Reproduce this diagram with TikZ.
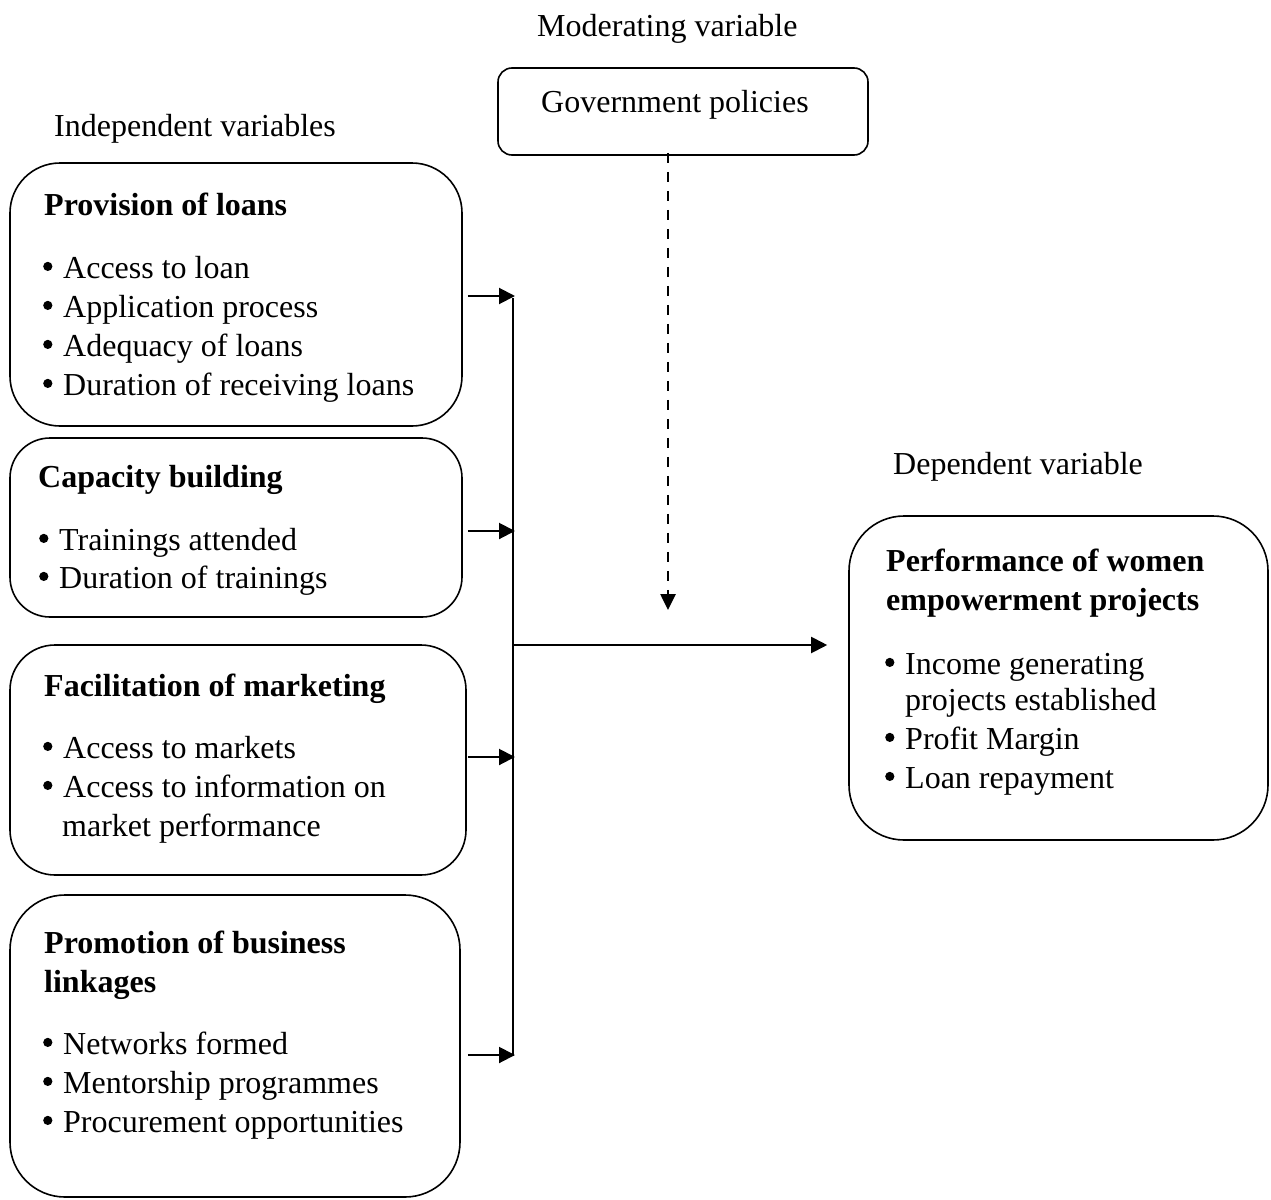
\documentclass[tikz,border=0pt]{standalone}
\usepackage{fontspec}
\setmainfont{Liberation Serif}
\usetikzlibrary{arrows.meta}
\newcommand{\bul}{\makebox[20pt][l]{\raisebox{7pt}{\tikz\fill (0,0) circle (4.6pt);}}}
\begin{document}
\begin{tikzpicture}[x=1pt,y=-1pt,
  txt/.style={anchor=base west,inner sep=0pt,font=\fontsize{32}{39}\selectfont},
  ttl/.style={txt,font=\fontsize{32}{39}\selectfont\bfseries},
  rbox/.style={draw,line width=1.6pt,inner sep=0pt,rectangle},
  conn/.style={line width=2pt,-{Triangle[length=16pt,width=16pt]}}]
\useasboundingbox (0,0) rectangle (1271,1199);
% boxes
\node[rbox,rounded corners=14pt,minimum width=370pt,minimum height=87pt] (gov) at (683,111.5) {};
\node[rbox,rounded corners=50pt,minimum width=452pt,minimum height=263pt] (b1) at (236,294.5) {};
\node[rbox,rounded corners=40pt,minimum width=452pt,minimum height=179pt] (b2) at (236,527.5) {};
\node[rbox,rounded corners=45pt,minimum width=456pt,minimum height=230pt] (b3) at (238,760) {};
\node[rbox,rounded corners=55pt,minimum width=450pt,minimum height=302pt] (b4) at (235,1046) {};
\node[rbox,rounded corners=55pt,minimum width=419pt,minimum height=324pt] (dep) at (1058.5,678) {};
% headings
\node[txt] (tmod) at (537,37) {Moderating variable};
\node[txt] (tgov) at (541,112) {Government policies};
\node[txt] (tind) at (54,136) {Independent variables};
\node[txt] (tdv) at (893,474) {Dependent variable};
% box 1
\node[ttl] (t1) at (44,215) {Provision of loans};
\node[txt] (t1a) at (43,278) {\bul Access to loan};
\node[txt] (t1b) at (43,317) {\bul Application process};
\node[txt] (t1c) at (43,356) {\bul Adequacy of loans};
\node[txt] (t1d) at (43,395) {\bul Duration of receiving loans};
% box 2
\node[ttl] (t2) at (38,487) {Capacity building};
\node[txt] (t2a) at (39,550) {\bul Trainings attended};
\node[txt] (t2b) at (39,588) {\bul Duration of trainings};
% box 3
\node[ttl] (t3) at (44,696) {Facilitation of marketing};
\node[txt] (t3a) at (43,758) {\bul Access to markets};
\node[txt] (t3b) at (43,797) {\bul Access to information on};
\node[txt] (t3c) at (62,836) {market performance};
% box 4
\node[ttl] (t4) at (44,953) {Promotion of business};
\node[ttl] (t4l) at (44,992) {linkages};
\node[txt] (t4a) at (43,1054) {\bul Networks formed};
\node[txt] (t4b) at (43,1093) {\bul Mentorship programmes};
\node[txt] (t4c) at (43,1132) {\bul Procurement opportunities};
% dependent
\node[ttl] (td) at (886,571) {Performance of women};
\node[ttl] (td2) at (886,610) {empowerment projects};
\node[txt] (tda) at (885,674) {\bul Income generating};
\node[txt] (tdb) at (905,710) {projects established};
\node[txt] (tdc) at (885,749) {\bul Profit Margin};
\node[txt] (tdd) at (885,788) {\bul Loan repayment};
% connectors
\coordinate (j1) at (515,296);
\coordinate (j2) at (515,531);
\coordinate (j3) at (515,757);
\coordinate (j4) at (515,1055);
\coordinate (btop) at (513,298);
\coordinate (bbot) at (513,1056);
\coordinate (jm) at (513,645);
\coordinate (dtip) at (668,610);
\draw[line width=2.4pt] (btop) -- (bbot);
\draw[conn] ([xshift=5pt]b1.east |- j1) -- (j1);
\draw[conn] ([xshift=5pt]b2.east |- j2) -- (j2);
\draw[conn] ([xshift=1pt]b3.east |- j3) -- (j3);
\draw[conn] ([xshift=7pt]b4.east |- j4) -- (j4);
\draw[conn] (jm) -- ([xshift=-21pt]dep.west |- jm);
\draw[line width=2.6pt,dash pattern=on 10pt off 9pt,-{Triangle[length=16pt,width=15pt]}] ([yshift=3pt]gov.south -| dtip) -- (dtip);
\end{tikzpicture}
\end{document}
